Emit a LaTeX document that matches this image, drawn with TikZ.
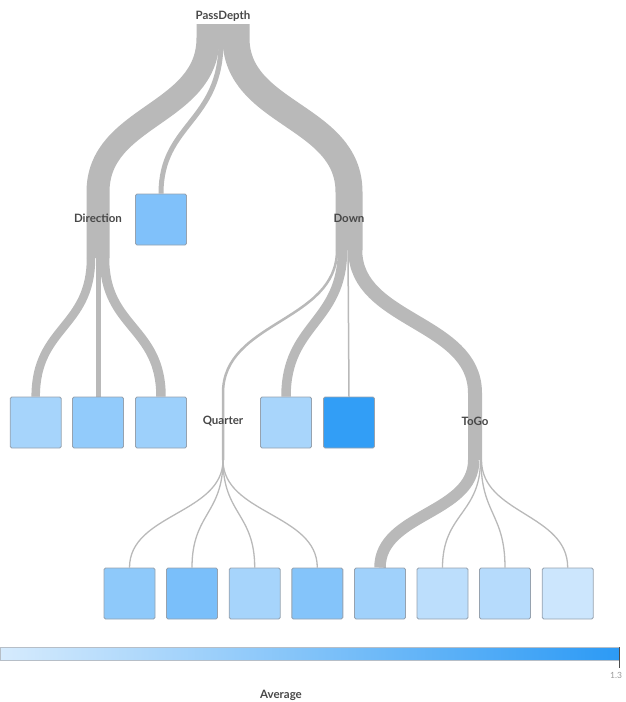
\documentclass[tikz,border=0pt]{standalone}
\usepackage{fontspec}
\setmainfont{Lato}
\usetikzlibrary{backgrounds}

\definecolor{linkgray}{RGB}{185,185,185}
\definecolor{boxline}{RGB}{150,162,175}
\definecolor{labelgray}{RGB}{72,72,72}
\definecolor{barlow}{RGB}{214,235,253}
\definecolor{barhigh}{RGB}{44,154,245}
\definecolor{lf0}{RGB}{128,193,250}
\definecolor{la1}{RGB}{166,212,251}
\definecolor{la2}{RGB}{146,203,251}
\definecolor{la3}{RGB}{157,208,251}
\definecolor{la4}{RGB}{168,213,251}
\definecolor{la5}{RGB}{50,158,246}
\definecolor{lc1}{RGB}{142,201,250}
\definecolor{lc2}{RGB}{122,191,250}
\definecolor{lc3}{RGB}{166,212,251}
\definecolor{lc4}{RGB}{132,196,250}
\definecolor{lc5}{RGB}{160,209,251}
\definecolor{lc6}{RGB}{188,222,252}
\definecolor{lc7}{RGB}{182,219,252}
\definecolor{lc8}{RGB}{204,230,253}

\tikzstyle{split}=[font=\fontsize{11.5}{13}\selectfont\bfseries,text=labelgray,inner sep=1pt]
\tikzstyle{leaf}=[draw=boxline,line width=0.9pt,rounded corners=1.5pt,minimum size=51pt,inner sep=0pt]
\tikzstyle{link}=[draw=linkgray,line cap=butt]

\begin{document}
\begin{tikzpicture}[x=1pt,y=-1pt]
    \useasboundingbox (0,0) rectangle (625,702);

    % split variables
    \node[split] (pd) at (223,16) {PassDepth};
    \node[split] (dir) at (98,218) {Direction};
    \node[split] (down) at (349,218) {Down};
    \node[split] (qtr) at (223,421) {Quarter};
    \node[split] (togo) at (475,421) {ToGo};

    % leaves
    \node[leaf,fill=lf0] (b0) at (161,219.5) {};
    \node[leaf,fill=la1] (a1) at (35.7,422.5) {};
    \node[leaf,fill=la2] (a2) at (98,422.5) {};
    \node[leaf,fill=la3] (a3) at (161,422.5) {};
    \node[leaf,fill=la4] (a4) at (286,422.5) {};
    \node[leaf,fill=la5] (a5) at (349,422.5) {};
    \node[leaf,fill=lc1] (c1) at (129.5,593.5) {};
    \node[leaf,fill=lc2] (c2) at (192,593.5) {};
    \node[leaf,fill=lc3] (c3) at (254.7,593.5) {};
    \node[leaf,fill=lc4] (c4) at (317.3,593.5) {};
    \node[leaf,fill=lc5] (c5) at (380,593.5) {};
    \node[leaf,fill=lc6] (c6) at (442.5,593.5) {};
    \node[leaf,fill=lc7] (c7) at (505,593.5) {};
    \node[leaf,fill=lc8] (c8) at (567.7,593.5) {};

    % links
    \begin{scope}[on background layer]
        \draw[link,line width=23pt] ([shift={(-15,8)}]pd.center) -- ++(0,14)
            .. controls +(0,77) and +(0,-77) .. ([shift={(0,-26)}]dir.center) -- ([shift={(0,40)}]dir.center);
        \draw[link,line width=5pt] ([shift={(-2,8)}]pd.center) -- ++(0,18)
            .. controls +(0,80) and +(0,-70) .. (b0.north);
        \draw[link,line width=27pt] ([shift={(13,8)}]pd.center) -- ++(0,14)
            .. controls +(0,77) and +(0,-77) .. ([shift={(0,-26)}]down.center) -- ([shift={(0,32)}]down.center);

        \draw[link,line width=8.5pt] ([shift={(-7,40)}]dir.center)
            .. controls +(0,70) and +(0,-70) .. (a1.north);
        \draw[link,line width=5pt] ([shift={(0,40)}]dir.center) -- (a2.north);
        \draw[link,line width=9.5pt] ([shift={(6.5,40)}]dir.center)
            .. controls +(0,70) and +(0,-70) .. (a3.north);

        \draw[link,line width=2.5pt] ([shift={(-12,32)}]down.center)
            .. controls +(0,72) and +(0,-72) .. ([shift={(0,-28)}]qtr.center) -- ([shift={(0,39)}]qtr.center);
        \draw[link,line width=9.5pt] ([shift={(-6.5,32)}]down.center)
            .. controls +(0,73) and +(0,-73) .. (a4.north);
        \draw[link,line width=1.5pt] ([shift={(-1,32)}]down.center) -- (a5.north);
        \draw[link,line width=14pt] ([shift={(6.25,32)}]down.center)
            .. controls +(0,72) and +(0,-72) .. ([shift={(0,-28)}]togo.center) -- ([shift={(0,39)}]togo.center);

        \draw[link,line width=1.3pt] ([shift={(0,39)}]qtr.center) .. controls +(0,54) and +(0,-54) .. (c1.north);
        \draw[link,line width=1.3pt] ([shift={(0,39)}]qtr.center) .. controls +(0,54) and +(0,-54) .. (c2.north);
        \draw[link,line width=1.3pt] ([shift={(0,39)}]qtr.center) .. controls +(0,54) and +(0,-54) .. (c3.north);
        \draw[link,line width=1.3pt] ([shift={(0,39)}]qtr.center) .. controls +(0,54) and +(0,-54) .. (c4.north);

        \draw[link,line width=11.5pt] ([shift={(-1.25,39)}]togo.center) .. controls +(0,54) and +(0,-54) .. (c5.north);
        \draw[link,line width=1.3pt] ([shift={(5.5,39)}]togo.center) .. controls +(0,54) and +(0,-54) .. (c6.north);
        \draw[link,line width=1.3pt] ([shift={(6,39)}]togo.center) .. controls +(0,54) and +(0,-54) .. (c7.north);
        \draw[link,line width=1.3pt] ([shift={(6.5,39)}]togo.center) .. controls +(0,54) and +(0,-54) .. (c8.north);
    \end{scope}

    % legend
    \shade[left color=barlow,right color=barhigh] (0,647) rectangle (619,660);
    \draw[boxline!70,line width=0.6pt] (0,647) rectangle (619,660);
    \draw[black!70,line width=0.8pt] (619,647) -- (619,668);
    \node[font=\fontsize{8.5}{10}\selectfont,text=black!40,anchor=west,inner sep=0pt] (vmax) at (610,675) {1.3};
    \node[split] (avg) at (281,695) {Average};
\end{tikzpicture}
\end{document}
